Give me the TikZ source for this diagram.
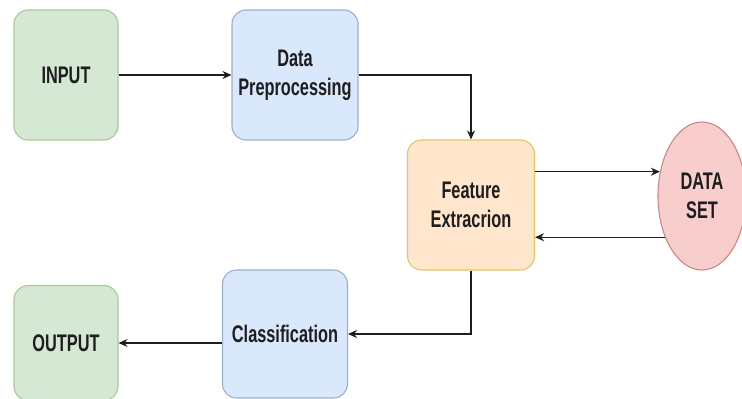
\documentclass[tikz,border=0pt]{standalone}
\usepackage{fontspec}
\setmainfont{Liberation Sans}[FakeStretch=0.68]
\usetikzlibrary{arrows.meta,shapes.geometric}
\definecolor{greenfill}{HTML}{D5E8D4}
\definecolor{greenline}{HTML}{82B366}
\definecolor{bluefill}{HTML}{DAE8FC}
\definecolor{blueline}{HTML}{6C8EBF}
\definecolor{orangefill}{HTML}{FFE6CC}
\definecolor{orangeline}{HTML}{D79B00}
\definecolor{redfill}{HTML}{F8CECC}
\definecolor{redline}{HTML}{B85450}
\definecolor{inkgray}{HTML}{1E1E1E}

\begin{document}
\begin{tikzpicture}[x=1pt,y=-1pt]
\tikzset{
  block/.style={rectangle,rounded corners=14pt,line width=1.1pt,align=center,inner sep=2pt,
    font=\fontsize{24}{29}\selectfont\bfseries,text=inkgray},
  greenblock/.style={block,draw=greenline!70,fill=greenfill},
  blueblock/.style={block,draw=blueline!70,fill=bluefill},
  orangeblock/.style={block,draw=orangeline!60,fill=orangefill},
  store/.style={ellipse,draw=redline!70,fill=redfill,line width=1.1pt,inner sep=0pt,align=center,
    font=\fontsize{24}{29}\selectfont\bfseries,text=inkgray},
  flow/.style={draw=inkgray,line width=1.3pt,-{Stealth[length=9pt,width=8pt]}}
}
\useasboundingbox (0,0) rectangle (742,399);
\node[greenblock,minimum width=104,minimum height=130] (n_input) at (66,75) {INPUT};
\node[blueblock,minimum width=126,minimum height=130] (n_prep) at (295,75) {Data\\Preprocessing};
\node[orangeblock,minimum width=127,minimum height=130] (n_feat) at (471,205) {Feature\\Extracrion};
\node[store,minimum width=88,minimum height=148] (n_data) at (702,196) {DATA\\SET};
\node[blueblock,minimum width=125,minimum height=128] (n_class) at (285,334) {Classification};
\node[greenblock,minimum width=104,minimum height=115] (n_output) at (66,343) {OUTPUT};
\draw[flow] (n_input) -- (n_prep);
\draw[flow] (n_prep.east) -| (n_feat.north);
\draw[flow] (n_feat.east |- n_data.150) -- (n_data.150);
\draw[flow] (n_data.228) -- (n_feat.east |- n_data.228);
\draw[flow] (n_feat.south) |- (n_class.east);
\draw[flow] (n_class.west |- n_output.east) -- (n_output.east);
\end{tikzpicture}
\end{document}
